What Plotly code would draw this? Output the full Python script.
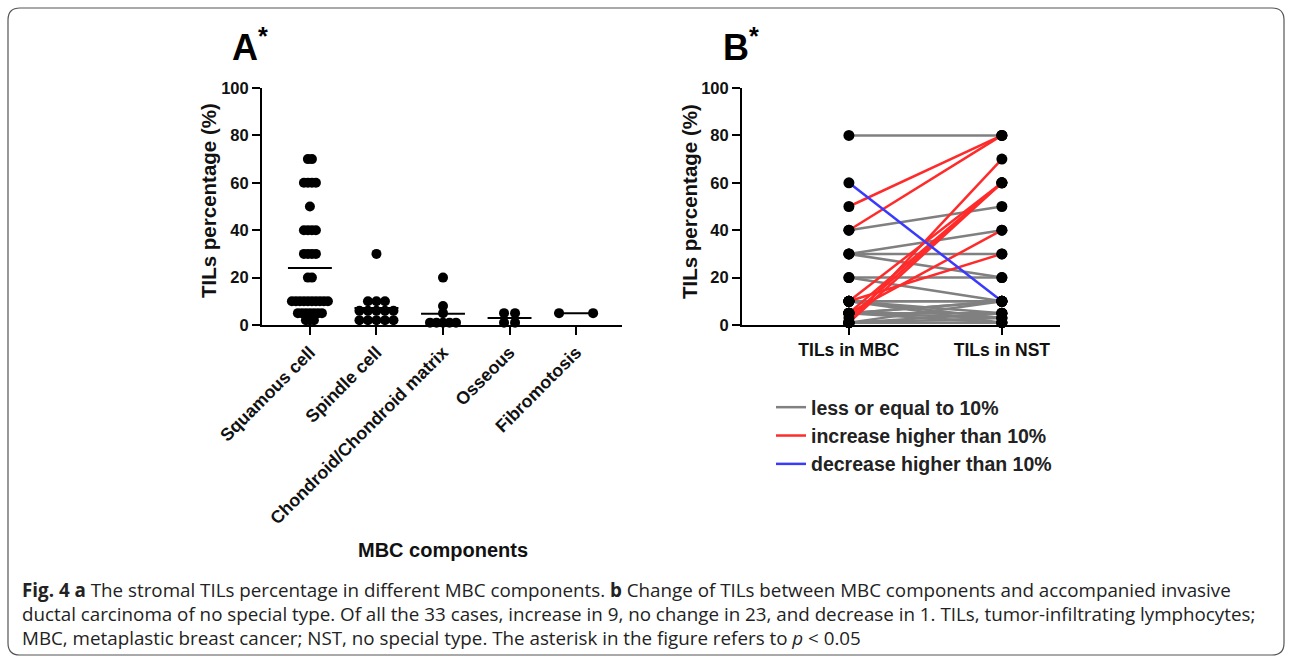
import numpy as np
import plotly.graph_objects as go

W, H = 1292, 662

# ---------------- DATA ----------------
categories = ["Squamous cell", "Spindle cell", "Chondroid/Chondroid matrix", "Osseous", "Fibromotosis"]
squamous = [70, 70, 60, 60, 60, 60, 50, 40, 40, 40, 40, 30, 30, 30, 30, 20, 20,
            10, 10, 10, 10, 10, 10, 10, 10, 10, 10, 5, 5, 5, 5, 5, 5, 5, 2, 2, 2]
spindle = [30, 10, 10, 10, 6, 6, 6, 6, 6, 2, 2, 2, 2, 2]
chondroid = [20, 8, 5, 1, 1, 1, 1, 1]
osseous = [5, 5, 1, 1]
fibromatosis = [5, 5]
panel_a_values = [squamous, spindle, chondroid, osseous, fibromatosis]

pair_labels = ["TILs in MBC", "TILs in NST"]
# (TILs in MBC, TILs in NST) pairs by change group
pairs_le10 = [(80, 80), (40, 50), (30, 40), (30, 30), (30, 20), (20, 20), (20, 10),
              (10, 10), (10, 10), (10, 5), (10, 1), (5, 10), (5, 5), (5, 3), (5, 1),
              (1, 10), (1, 5), (1, 3), (1, 1), (5, 5), (10, 3), (1, 1), (5, 10)]
pairs_inc = [(50, 80), (40, 80), (1, 70), (10, 60), (5, 60), (1, 60), (3, 60), (5, 40), (10, 30)]
pairs_dec = [(60, 10)]
group_names = ["less or equal to 10%", "increase higher than 10%", "decrease higher than 10%"]
group_colors = ["#808080", "#ff2b2b", "#3a3aff"]

# ---------------- GEOMETRY ----------------
def px_x(p):
    return p / W

def px_y(p):
    return 1 - p / H

ya_dom = [px_y(325), px_y(88)]
xa_dom = [px_x(262), px_x(622)]
xb_dom = [px_x(742), px_x(1060)]
xa_range = [-0.72, 4.69]
xb_range = [-0.699, 1.38]
a_px_per_unit = 66.5
spacings_px = [4.0, 8.5, 6.5, 11.0, 34.0]

fig = go.Figure()

# Panel A: mean lines then dots
for i, vals in enumerate(panel_a_values):
    m = float(np.mean(vals))
    fig.add_trace(go.Scatter(x=[i - 0.33, i + 0.33], y=[m, m], mode="lines",
                             line=dict(color="black", width=2), showlegend=False,
                             hoverinfo="skip", xaxis="x", yaxis="y"))
for i, vals in enumerate(panel_a_values):
    xs, ys = [], []
    uniq = sorted(set(vals), reverse=True)
    for v in uniq:
        n = vals.count(v)
        s = spacings_px[i] / a_px_per_unit
        for k in range(n):
            xs.append(i + (k - (n - 1) / 2) * s)
            ys.append(v)
    fig.add_trace(go.Scatter(x=xs, y=ys, mode="markers",
                             marker=dict(color="black", size=10),
                             cliponaxis=False, showlegend=False,
                             xaxis="x", yaxis="y"))

# Panel B lines
for name, color, pairs in zip(group_names, group_colors, [pairs_le10, pairs_inc, pairs_dec]):
    xs, ys = [], []
    for a, b in pairs:
        xs += [0, 1, None]
        ys += [a, b, None]
    fig.add_trace(go.Scatter(x=xs, y=ys, mode="lines", name=name,
                             line=dict(color=color, width=2.5),
                             legendgroup=name, cliponaxis=False,
                             xaxis="x2", yaxis="y2"))
# Panel B dots
bx, by = [], []
for pairs in [pairs_le10, pairs_inc, pairs_dec]:
    for a, b in pairs:
        bx += [0, 1]
        by += [a, b]
fig.add_trace(go.Scatter(x=bx, y=by, mode="markers", marker=dict(color="black", size=11),
                         cliponaxis=False, showlegend=False, xaxis="x2", yaxis="y2"))

FAM = "Liberation Sans, Arial"
ytickfont = dict(family=FAM, size=16.5, color="#111", weight="bold")
xtickfont = dict(family=FAM, size=17.8, color="#111", weight="bold")
axis_common = dict(showline=True, linecolor="black", linewidth=2, ticks="outside",
                   ticklen=8, tickwidth=2, tickcolor="black", showgrid=False,
                   zeroline=False, automargin=False)

fig.update_layout(
    template="none",
    width=W, height=H, margin=dict(l=0, r=0, t=0, b=0, pad=0, autoexpand=False),
    paper_bgcolor="white", plot_bgcolor="rgba(0,0,0,0)",
    xaxis=dict(domain=xa_dom, range=xa_range, tickvals=list(range(len(categories))),
               ticktext=categories, tickangle=-45, anchor="y", tickfont=xtickfont, **axis_common),
    yaxis=dict(domain=ya_dom, range=[0, 100], tickvals=[0, 20, 40, 60, 80, 100],
               anchor="x", tickfont=ytickfont, **axis_common),
    xaxis2=dict(domain=xb_dom, range=xb_range, tickvals=[0, 1], ticktext=pair_labels,
                tickangle=0, anchor="y2", tickfont=dict(family=FAM, size=17.5, color="#111", weight="bold"),
                **axis_common),
    yaxis2=dict(domain=ya_dom, range=[0, 100], tickvals=[0, 20, 40, 60, 80, 100],
                anchor="x2", tickfont=ytickfont, **axis_common),
    showlegend=True,
    legend=dict(x=px_x(771), y=px_y(388), xanchor="left", yanchor="top",
                font=dict(family=FAM, size=19.5, color="#222", weight="bold"),
                bgcolor="rgba(0,0,0,0)", borderwidth=0, tracegroupgap=0, itemwidth=30),
)

ann = []
lab_font = dict(family=FAM, size=20.5, color="#111", weight="bold")
ann.append(dict(text="TILs percentage (%)", x=px_x(209), y=px_y(201), xref="paper", yref="paper",
                textangle=-90, showarrow=False, font=lab_font, xanchor="center", yanchor="middle"))
ann.append(dict(text="TILs percentage (%)", x=px_x(690), y=px_y(201), xref="paper", yref="paper",
                textangle=-90, showarrow=False, font=lab_font, xanchor="center", yanchor="middle"))
ann.append(dict(text="MBC components", x=px_x(443), y=px_y(550), xref="paper", yref="paper",
                showarrow=False, font=dict(family=FAM, size=20, color="#111", weight="bold"),
                xanchor="center", yanchor="middle"))
big = dict(family=FAM, size=36, color="black", weight="bold")
ann.append(dict(text="A<sup>*</sup>", x=px_x(230), y=px_y(45), xref="paper", yref="paper",
                showarrow=False, font=big, xanchor="left", yanchor="middle"))
ann.append(dict(text="B<sup>*</sup>", x=px_x(721), y=px_y(45), xref="paper", yref="paper",
                showarrow=False, font=big, xanchor="left", yanchor="middle"))

cap_font = dict(family="Open Sans", size=18.8, color="#222")
cap_lines = [
    "<b>Fig. 4 a</b> The stromal TILs percentage in different MBC components. <b>b</b> Change of TILs between MBC components and accompanied invasive",
    "ductal carcinoma of no special type. Of all the 33 cases, increase in 9, no change in 23, and decrease in 1. TILs, tumor-infiltrating lymphocytes;",
    "MBC, metaplastic breast cancer; NST, no special type. The asterisk in the figure refers to <i>p</i> &lt; 0.05",
]
for j, t in enumerate(cap_lines):
    ann.append(dict(text=t, x=px_x(20), y=px_y(590 + 24 * j), xref="paper", yref="paper",
                    showarrow=False, font=cap_font, xanchor="left", yanchor="middle"))
fig.update_layout(annotations=ann)

# rounded frame
x0, y0, x1, y1, r = 8, 8, 1284, 655, 12
pts = [("M", x0 + r, y0), ("L", x1 - r, y0), ("Q", x1, y0, x1, y0 + r), ("L", x1, y1 - r),
       ("Q", x1, y1, x1 - r, y1), ("L", x0 + r, y1), ("Q", x0, y1, x0, y1 - r),
       ("L", x0, y0 + r), ("Q", x0, y0, x0 + r, y0)]
path = ""
for p in pts:
    cmd = p[0]
    coords = p[1:]
    segs = []
    for k in range(0, len(coords), 2):
        segs.append(f"{px_x(coords[k]):.5f},{px_y(coords[k + 1]):.5f}")
    path += cmd + " " + " ".join(segs) + " "
path += "Z"
fig.add_shape(type="path", path=path, xref="paper", yref="paper",
              line=dict(color="#555", width=1.2), layer="below")

fig.write_html("out.html", config={"displayModeBar": False},
               post_script="document.body.style.margin='0px';document.body.style.padding='0px';")
